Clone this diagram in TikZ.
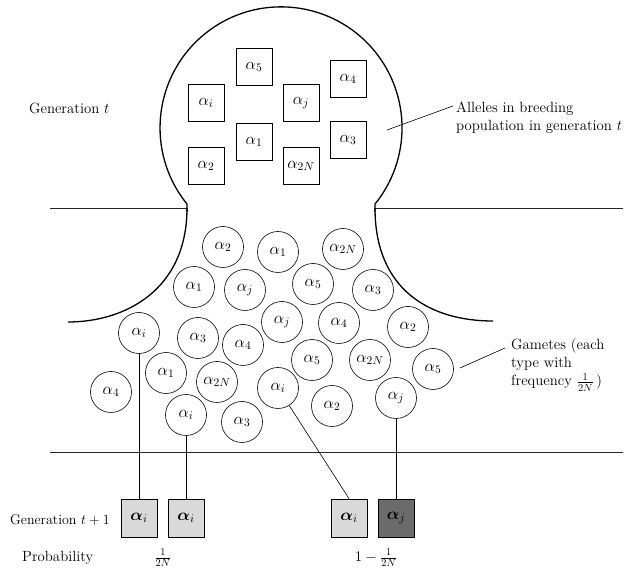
\RequirePackage{fix-cm}
\documentclass[tikz,border=0pt]{standalone}
\usepackage{amsmath,bm}
\definecolor{boxlight}{HTML}{D9D9D9}
\definecolor{boxdark}{HTML}{6B6B6B}
\tikzset{
  txt/.style={font=\fontsize{14.8}{18}\selectfont, inner sep=0pt},
  gam/.style={circle, draw, line width=0.6pt, minimum size=41pt, inner sep=0pt, font=\fontsize{16.5}{18}\selectfont},
  allele/.style={rectangle, draw, line width=0.6pt, minimum width=36pt, minimum height=37pt, inner sep=0pt, font=\fontsize{16.5}{18}\selectfont},
  offspring/.style={rectangle, draw, line width=0.7pt, minimum width=36pt, minimum height=38pt, inner sep=0pt, font=\fontsize{16.5}{18}\selectfont},
  bulb/.style={line width=1.3pt},
  hline/.style={line width=0.8pt, black!85},
  link/.style={line width=0.6pt}
}
\begin{document}
\begin{tikzpicture}[x=1pt,y=-1pt]
\useasboundingbox (0,0) rectangle (625,569);
% horizontal lines
\draw[hline] (50,208) -- (187,208);
\draw[hline] (375,208) -- (623,208);
\draw[hline] (50,452) -- (623,452);
% bulb
\draw[bulb] (187,212) -- (187,204) arc[start angle=141,end angle=399,radius=121] -- (375,212);
\draw[bulb] (187,208) .. controls (187,290) and (125,322) .. (68,322);
\draw[bulb] (375,208) .. controls (375,290) and (430,321) .. (493,321);
% alleles in generation t
\node[allele] (a5)  at (254,67)  {$\alpha_5$};
\node[allele] (a4)  at (348,79)  {$\alpha_4$};
\node[allele] (ai)  at (206,103) {$\alpha_i$};
\node[allele] (aj)  at (301,103) {$\alpha_j$};
\node[allele] (a1)  at (254,142) {$\alpha_1$};
\node[allele] (a3)  at (348,140) {$\alpha_3$};
\node[allele] (a2)  at (206,166) {$\alpha_2$};
\node[allele] (a2N) at (301,166) {$\alpha_{2N}$};
% gametes
\node[gam] (c1)  at (223,247) {$\alpha_2$};
\node[gam] (c2)  at (194,287) {$\alpha_1$};
\node[gam] (c3)  at (245,290) {$\alpha_j$};
\node[gam] (c4)  at (139,333) {$\alpha_i$};
\node[gam] (c5)  at (198,338) {$\alpha_3$};
\node[gam] (c6)  at (243,345) {$\alpha_4$};
\node[gam] (c7)  at (166,373) {$\alpha_1$};
\node[gam] (c8)  at (217,382) {$\alpha_{2N}$};
\node[gam] (c9)  at (111,392) {$\alpha_4$};
\node[gam] (c10) at (186,415) {$\alpha_i$};
\node[gam] (c11) at (242,422) {$\alpha_3$};
\node[gam] (c12) at (278,252) {$\alpha_1$};
\node[gam] (c13) at (343,249) {$\alpha_{2N}$};
\node[gam] (c14) at (313,284) {$\alpha_5$};
\node[gam] (c15) at (373,290) {$\alpha_3$};
\node[gam] (c16) at (282,322) {$\alpha_j$};
\node[gam] (c17) at (339,323) {$\alpha_4$};
\node[gam] (c18) at (408,327) {$\alpha_2$};
\node[gam] (c19) at (312,360) {$\alpha_5$};
\node[gam] (c20) at (370,360) {$\alpha_{2N}$};
\node[gam] (c21) at (433,369) {$\alpha_5$};
\node[gam] (c22) at (278,388) {$\alpha_i$};
\node[gam] (c23) at (332,406) {$\alpha_2$};
\node[gam] (c24) at (396,398) {$\alpha_j$};
% generation t+1
\node[offspring, fill=boxlight] (b1) at (139,518) {$\bm{\alpha}_i$};
\node[offspring, fill=boxlight] (b2) at (186,518) {$\bm{\alpha}_i$};
\node[offspring, fill=boxlight] (b3) at (349,518) {$\bm{\alpha}_i$};
\node[offspring, fill=boxdark]  (b4) at (396,518) {$\bm{\alpha}_j$};
\draw[link] (c4) -- (b1);
\draw[link] (c10) -- (b2);
\draw[link] (c22) -- (b3.north);
\draw[link] (c24) -- (b4);
% labels
\node[txt, anchor=west] (gent) at (29,108) {Generation $t$};
\node[txt, anchor=west, font=\fontsize{14}{18}\selectfont] (gent1) at (10,520) {Generation $t+1$};
\node[txt, anchor=west] (prob) at (22,558) {Probability};
\node[txt] (p1) at (163,558) {$\frac{1}{2N}$};
\node[txt] (p2) at (376,558) {$1-\frac{1}{2N}$};
\node[txt, anchor=west, align=left] (alltxt) at (456,117.5) {Alleles in breeding\\population in generation $t$};
\node[txt, anchor=west, align=left] (gamtxt) at (511,365) {Gametes (each\\type with\\frequency $\frac{1}{2N}$\,)};
\coordinate (l1a) at (387,130);
\coordinate (l1b) at (453,106);
\coordinate (l2a) at (460,368);
\coordinate (l2b) at (505,348);
\draw[link] (l1a) -- (l1b);
\draw[link] (l2a) -- (l2b);
\end{tikzpicture}
\end{document}
